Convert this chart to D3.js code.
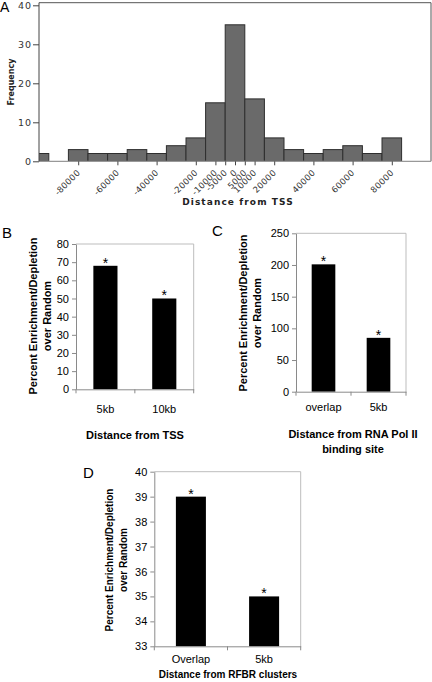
<!DOCTYPE html>
<html><head><meta charset="utf-8">
<script src="https://cdn.jsdelivr.net/npm/d3@7"></script>
<style>
html,body{margin:0;padding:0;background:#fff;}
svg{display:block;}
</style></head>
<body>
<svg id="chart" width="432" height="682"></svg>
<script>
// ---------- DATA ----------
// Panel A: histogram of distance from TSS (bin centers, bin width 10000)
const histBinCenters = [-100000,-90000,-80000,-70000,-60000,-50000,-40000,-30000,-20000,-10000,0,10000,20000,30000,40000,50000,60000,70000,80000];
const histCounts     = [2,0,3,2,2,3,2,4,6,15,35,16,6,3,2,3,4,2,6];
const histXTicks     = [-80000,-60000,-40000,-20000,-10000,-5000,0,5000,10000,20000,40000,60000,80000];
const histYTicks     = [0,10,20,30,40];

// Panel B
const bCategories = ["5kb","10kb"];
const bValues     = [68,50];
const bYTicks     = [0,10,20,30,40,50,60,70,80];

// Panel C
const cCategories = ["overlap","5kb"];
const cValues     = [201,85];
const cYTicks     = [0,50,100,150,200,250];

// Panel D
const dCategories = ["Overlap","5kb"];
const dValues     = [39,35];
const dYTicks     = [33,34,35,36,37,38,39,40];

const svg = d3.select("#chart");

// ---------- PANEL A ----------
(function(){
  const L=39, R=431, T=2.7, B0=161.3;
  const x = d3.scaleLinear().domain([-100000,100000]).range([L,R]);
  const y = d3.scaleLinear().domain([0,40]).range([B0,5.3]);
  const binW = 10000;
  const g = svg.append("g");
  g.append("defs").append("clipPath").attr("id","clipA")
    .append("rect").attr("x",L).attr("y",0).attr("width",R-L).attr("height",B0+1);
  const data = histBinCenters.map((c,i)=>({c, n:histCounts[i]}));
  g.append("g").attr("clip-path","url(#clipA)")
    .selectAll("rect").data(data.filter(d=>d.n>0)).join("rect")
    .attr("x",d=>x(d.c-binW/2)).attr("width",d=>x(d.c+binW/2)-x(d.c-binW/2))
    .attr("y",d=>y(d.n)).attr("height",d=>y(0)-y(d.n))
    .attr("fill","#6a6a6a").attr("stroke","#2e2e2e").attr("stroke-width",1);
  // frame top & right
  g.append("line").attr("x1",L).attr("x2",R).attr("y1",T).attr("y2",T).attr("stroke","#555").attr("stroke-width",1);
  g.append("line").attr("x1",R).attr("x2",R).attr("y1",T).attr("y2",B0).attr("stroke","#555").attr("stroke-width",1);
  // baseline
  g.append("line").attr("x1",L).attr("x2",R).attr("y1",B0).attr("y2",B0).attr("stroke","#999").attr("stroke-width",1.2);
  // y axis
  const ya = g.append("g").attr("transform",`translate(${L},0)`)
    .call(d3.axisLeft(y).tickValues(histYTicks).tickSize(6).tickSizeOuter(0));
  ya.select(".domain").attr("stroke","#444").attr("d",`M0,${T}V${B0}`);
  ya.selectAll(".tick line").attr("stroke","#444");
  ya.selectAll(".tick text").attr("font-family","DejaVu Sans").attr("font-size","9.5px")
    .attr("letter-spacing","1px").attr("fill","#333").attr("x",-7);
  // x axis ticks
  const xa = g.append("g").attr("transform",`translate(0,${B0})`)
    .call(d3.axisBottom(x).tickValues(histXTicks).tickSize(4).tickSizeOuter(0).tickFormat(d=>String(d)));
  xa.select(".domain").remove();
  xa.selectAll(".tick line").attr("stroke","#444");
  xa.selectAll(".tick text").attr("font-family","DejaVu Sans").attr("font-size","8.5px")
    .attr("letter-spacing","0.3px").attr("fill","#333")
    .attr("text-anchor","end").attr("dy","0").attr("y",0)
    .attr("transform","translate(2,12) rotate(-45)");
  g.append("text").attr("transform",`translate(14,${(T+B0)/2}) rotate(-90)`)
    .attr("text-anchor","middle").attr("font-family","DejaVu Sans").attr("font-weight","bold")
    .attr("font-size","8px").attr("fill","#222").text("Frequency");
  g.append("text").attr("x",(L+R)/2+3).attr("y",205).attr("text-anchor","middle")
    .attr("font-family","DejaVu Sans").attr("font-weight","bold").attr("font-size","9px")
    .attr("letter-spacing","1.1px").attr("fill","#222").text("Distance from TSS");
  svg.append("text").attr("x",0).attr("y",12).attr("font-family","Liberation Sans")
    .attr("font-size","14px").text("A");
})();

// ---------- Excel-style bar panels ----------
function barPanel(o){
  const g = svg.append("g");
  const x = d3.scaleBand().domain(o.cats).range([o.L,o.R]).paddingInner(o.pad).paddingOuter(o.pad/2);
  const y = d3.scaleLinear().domain(o.ydom).range([o.B0,o.T]);
  // plot border top and right
  g.append("path").attr("d",`M${o.L},${o.T}H${o.R}V${o.B0}`).attr("fill","none")
    .attr("stroke","#bdbdbd").attr("stroke-width",1);
  // bars
  g.selectAll("rect.bar").data(o.cats).join("rect").attr("class","bar")
    .attr("x",d=>x(d)).attr("width",x.bandwidth())
    .attr("y",(d,i)=>y(o.vals[i])).attr("height",(d,i)=>y(o.ydom[0])-y(o.vals[i]))
    .attr("fill","#000");
  // stars
  g.selectAll("text.star").data(o.cats).join("text").attr("class","star")
    .attr("x",d=>x(d)+x.bandwidth()/2).attr("y",(d,i)=>y(o.vals[i])+2)
    .attr("text-anchor","middle").attr("font-family","Liberation Sans").attr("font-size","14px")
    .attr("fill","#000").text("*");
  // y axis
  const ya = g.append("g").attr("transform",`translate(${o.L},0)`)
    .call(d3.axisLeft(y).tickValues(o.yticks).tickSize(4).tickSizeOuter(0).tickFormat(d3.format("d")));
  ya.select(".domain").attr("stroke","#8a8a8a");
  ya.selectAll(".tick line").attr("stroke","#8a8a8a");
  ya.selectAll(".tick text").attr("font-family","Liberation Sans").attr("font-size","11px")
    .attr("fill","#000").attr("x",-7);
  // x axis
  const xa = g.append("g").attr("transform",`translate(0,${o.B0})`)
    .call(d3.axisBottom(x).tickSize(0).tickPadding(o.catPad));
  xa.select(".domain").attr("stroke","#8a8a8a");
  xa.selectAll(".tick text").attr("font-family","Liberation Sans").attr("font-size","11px").attr("fill","#000");
  const bounds = [o.L].concat(o.cats.map(c=>x(c)+x.bandwidth()+x.step()*o.pad/2));
  xa.selectAll("line.bt").data(bounds).join("line").attr("class","bt")
    .attr("x1",d=>d).attr("x2",d=>d).attr("y1",0).attr("y2",4).attr("stroke","#8a8a8a");
  // y title
  o.ytitle.forEach((t,i)=>{
    g.append("text").attr("transform",`translate(${o.ytx[i]},${o.ytCenter}) rotate(-90)`)
      .attr("text-anchor","middle").attr("font-family","Liberation Sans").attr("font-weight","bold")
      .attr("font-size",o.ytSize).text(t);
  });
  o.xtitle.forEach((t,i)=>{
    g.append("text").attr("x",o.xtCenter).attr("y",o.xty[i]).attr("text-anchor","middle")
      .attr("font-family","Liberation Sans").attr("font-weight","bold").attr("font-size",o.xtSize).text(t);
  });
  svg.append("text").attr("x",o.lab[0]).attr("y",o.lab[1]).attr("font-family","Liberation Sans")
    .attr("font-size","15px").text(o.label);
}

barPanel({cats:bCategories, vals:bValues, yticks:bYTicks, ydom:[0,80],
  L:76, R:193.7, T:244, B0:389.3, pad:0.59, catPad:16,
  ytitle:["Percent Enrichment/Depletion","over Random"], ytx:[37,50.5], ytCenter:316, ytSize:"11px",
  xtitle:["Distance from TSS"], xty:[439], xtCenter:135, xtSize:"11px",
  label:"B", lab:[2,238]});

barPanel({cats:cCategories, vals:cValues, yticks:cYTicks, ydom:[0,250],
  L:296, R:406, T:233.3, B0:391.7, pad:0.57, catPad:12,
  ytitle:["Percent Enrichment/Depletion","over Random"], ytx:[247,260.5], ytCenter:313, ytSize:"11px",
  xtitle:["Distance from RNA Pol II","binding site"], xty:[438,453], xtCenter:353, xtSize:"11px",
  label:"C", lab:[212,236]});

barPanel({cats:dCategories, vals:dValues, yticks:dYTicks, ydom:[33,40],
  L:154.3, R:300.7, T:471.7, B0:646.3, pad:0.59, catPad:9,
  ytitle:["Percent Enrichment/Depletion","over Random"], ytx:[113,126.5], ytCenter:560, ytSize:"10px",
  xtitle:["Distance from RFBR clusters"], xty:[678], xtCenter:228, xtSize:"10px",
  label:"D", lab:[83,478]});
</script>
</body></html>
